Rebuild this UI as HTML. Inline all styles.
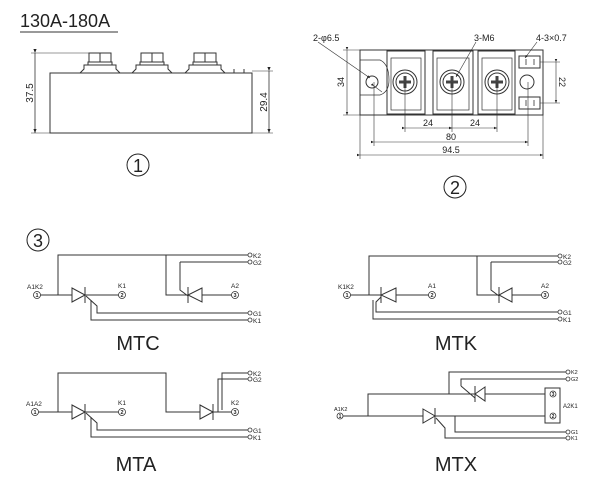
<!DOCTYPE html>
<html><head><meta charset="utf-8"><style>
html,body{margin:0;padding:0;background:#fff;}
svg{display:block;}
text{font-family:"Liberation Sans",sans-serif;fill:#222;}
</style></head><body>
<svg width="600" height="485" viewBox="0 0 600 485" xmlns="http://www.w3.org/2000/svg">
<defs>
<marker id="ar" markerWidth="6" markerHeight="6" refX="5" refY="3" orient="auto"><path d="M0,1 L5,3 L0,5z" fill="#222"/></marker>
</defs>
<text x="20" y="27" font-size="18" fill="#333">130A-180A</text>
<line x1="20" y1="32" x2="118" y2="32" stroke="#333" stroke-width="1"/>

<g stroke="#333" stroke-width="1" fill="none">
<rect x="50" y="73" width="202" height="60"/>
<g id="bolt">
<path d="M80,73 L84,69 L84,65 L116,65 L116,69 L120,73"/>
<rect x="88" y="62" width="24" height="3"/>
<rect x="89" y="53" width="22" height="9"/>
<line x1="100" y1="53" x2="100" y2="62"/>
</g>
<use href="#bolt" x="52"/>
<use href="#bolt" x="105"/>
<line x1="234" y1="69" x2="234" y2="73"/><line x1="244" y1="69" x2="244" y2="73"/>
<line x1="31" y1="53" x2="89" y2="53" stroke-width="0.6"/>
<line x1="31" y1="133" x2="50" y2="133" stroke-width="0.6"/>
<line x1="35" y1="53" x2="35" y2="133" stroke-width="0.8" marker-start="url(#ar)" marker-end="url(#ar)"/>
<line x1="252" y1="71" x2="273" y2="71" stroke-width="0.6"/>
<line x1="252" y1="133" x2="273" y2="133" stroke-width="0.6"/>
<line x1="269" y1="71" x2="269" y2="133" stroke-width="0.8" marker-start="url(#ar)" marker-end="url(#ar)"/>
</g>
<text transform="translate(33,93) rotate(-90)" font-size="10" text-anchor="middle">37.5</text>
<text transform="translate(267,102) rotate(-90)" font-size="10" text-anchor="middle">29.4</text>
<circle cx="138" cy="165" r="11" fill="none" stroke="#222" stroke-width="1"/>
<text x="138" y="172" font-size="18" text-anchor="middle">1</text>

<g stroke="#333" stroke-width="1" fill="none">
<rect x="360" y="50" width="183" height="65"/>
<path d="M360,60 L380,60 Q389,64 389,80 Q389,92 380,95 L360,95" stroke-width="0.7"/>
<rect x="387" y="51" width="38" height="63"/>
<rect x="391" y="58" width="30" height="52" stroke-width="0.7"/>
<rect x="433" y="51" width="40" height="63"/>
<rect x="437" y="58" width="32" height="52" stroke-width="0.7"/>
<rect x="478" y="51" width="37" height="63"/>
<rect x="482" y="58" width="30" height="52" stroke-width="0.7"/>
<circle cx="372" cy="82" r="6"/>
<circle cx="527" cy="82" r="7"/>
<rect x="519" y="56" width="21" height="12"/>
<rect x="519" y="97" width="21" height="12"/>
<path d="M526,59 v6 M534,59 v6 M526,100 v6 M534,100 v6" stroke-width="0.8"/>
<g id="scr"><circle cx="405" cy="82" r="12"/><circle cx="405" cy="82" r="9"/>
<path d="M403.5,76 h3 v4.5 h4.5 v3 h-4.5 v4.5 h-3 v-4.5 h-4.5 v-3 h4.5z" fill="#444" stroke="none"/></g>
<use href="#scr" x="47"/><use href="#scr" x="92"/>
<g stroke-width="0.6">
<line x1="343" y1="50" x2="360" y2="50"/><line x1="343" y1="115" x2="360" y2="115"/>
<line x1="347" y1="50" x2="347" y2="115" marker-start="url(#ar)" marker-end="url(#ar)"/>
<line x1="540" y1="62" x2="560" y2="62"/><line x1="540" y1="103" x2="560" y2="103"/>
<line x1="556" y1="62" x2="556" y2="103" marker-start="url(#ar)" marker-end="url(#ar)"/>
<line x1="405" y1="82" x2="405" y2="132"/><line x1="452" y1="82" x2="452" y2="132"/><line x1="497" y1="82" x2="497" y2="132"/>
<line x1="405" y1="128" x2="452" y2="128" marker-start="url(#ar)" marker-end="url(#ar)"/>
<line x1="452" y1="128" x2="497" y2="128" marker-start="url(#ar)" marker-end="url(#ar)"/>
<line x1="374" y1="82" x2="374" y2="146"/><line x1="528" y1="82" x2="528" y2="146"/>
<line x1="374" y1="142" x2="528" y2="142" marker-start="url(#ar)" marker-end="url(#ar)"/>
<line x1="360" y1="115" x2="360" y2="159"/><line x1="543" y1="115" x2="543" y2="159"/>
<line x1="360" y1="155" x2="543" y2="155" marker-start="url(#ar)" marker-end="url(#ar)"/>
<line x1="318" y1="42" x2="370" y2="78" marker-end="url(#ar)"/>
<line x1="374" y1="86" x2="382" y2="92" marker-start="url(#ar)"/>
<line x1="476" y1="42" x2="456" y2="77" marker-end="url(#ar)"/>
<line x1="537" y1="42" x2="525" y2="58" marker-end="url(#ar)"/>
</g>
</g>
<text x="313" y="41" font-size="9">2-φ6.5</text>
<text x="474" y="41" font-size="9">3-M6</text>
<text x="536" y="41" font-size="9">4-3×0.7</text>
<text transform="translate(344,82) rotate(-90)" font-size="9" text-anchor="middle">34</text>
<text transform="translate(559,82) rotate(90)" font-size="9" text-anchor="middle">22</text>
<text x="428" y="126" font-size="9" text-anchor="middle">24</text>
<text x="475" y="126" font-size="9" text-anchor="middle">24</text>
<text x="451" y="140" font-size="9" text-anchor="middle">80</text>
<text x="451" y="153" font-size="9" text-anchor="middle">94.5</text>
<circle cx="455" cy="187" r="11" fill="none" stroke="#222" stroke-width="1"/>
<text x="455" y="194" font-size="18" text-anchor="middle">2</text>

<circle cx="38" cy="240" r="11" fill="none" stroke="#222" stroke-width="1"/>
<text x="38" y="247" font-size="18" text-anchor="middle">3</text>

<g stroke="#333" stroke-width="1" fill="none">
<path d="M39,295 H72 M85,295 H119 M58,295 V255 H248 M166,255 V295 H188 M202,295 H232 M180,262 H248 M180,262 V290 L188,296"/>
<path d="M72,288 L85,295 L72,302z"/><line x1="85" y1="287" x2="85" y2="303"/>
<path d="M202,288 L188,295 L202,302z"/><line x1="188" y1="287" x2="188" y2="303"/>
<path d="M86,296 L97,306 V313 H248 M91,300 V320 H248"/>
<path d="M349,295 H381 M396,295 H429 M369,295 V256 H558 M477,256 V295 H499 M512,295 H542 M491,262 H558 M491,262 V290 L499,296"/>
<path d="M396,288 L381,295 L396,302z"/><line x1="381" y1="287" x2="381" y2="303"/>
<path d="M512,288 L499,295 L512,302z"/><line x1="499" y1="287" x2="499" y2="303"/>
<path d="M381,297 L376,302 V312 H558 M373,300 V319 H558"/>
<path d="M37,412 H72 M85,412 H119 M58,412 V373 H166 V412 H200 M213,412 H232 M222,410 V373 H248 M218,412 V379 H248"/>
<path d="M72,405 L85,412 L72,419z"/><line x1="85" y1="404" x2="85" y2="420"/>
<path d="M200,405 L213,412 L200,419z"/><line x1="213" y1="404" x2="213" y2="420"/>
<path d="M86,413 L97,423 V430 H248 M91,417 V437 H248"/>
<path d="M343,416 H423 M435,416 H545 M368,416 V394 H475 M485,394 H545 M449,394 V372 H566 M461,386 V379 H566 M461,386 L475,398"/>
<path d="M423,409 L435,416 L423,423z"/><line x1="435" y1="408" x2="435" y2="424"/>
<path d="M485,387 L475,394 L485,401z"/><line x1="475" y1="386" x2="475" y2="402"/>
<path d="M455,416 V432 H566 M436,418 L445,428 V438 H566"/>
<rect x="545" y="388" width="15" height="35"/>
</g>
<g fill="#fff" stroke="#333" stroke-width="0.8">
<circle cx="37" cy="295" r="3.5"/><circle cx="122" cy="295" r="3.5"/><circle cx="235" cy="295" r="3.5"/>
<circle cx="250" cy="255" r="2"/><circle cx="250" cy="262" r="2"/><circle cx="250" cy="313" r="2"/><circle cx="250" cy="320" r="2"/>
<circle cx="347" cy="295" r="3.5"/><circle cx="432" cy="295" r="3.5"/><circle cx="545" cy="295" r="3.5"/>
<circle cx="560" cy="256" r="2"/><circle cx="560" cy="262" r="2"/><circle cx="560" cy="312" r="2"/><circle cx="560" cy="319" r="2"/>
<circle cx="35" cy="412" r="3.5"/><circle cx="122" cy="412" r="3.5"/><circle cx="235" cy="412" r="3.5"/>
<circle cx="250" cy="373" r="2"/><circle cx="250" cy="379" r="2"/><circle cx="250" cy="430" r="2"/><circle cx="250" cy="437" r="2"/>
<circle cx="340" cy="416" r="3"/><circle cx="553" cy="394" r="3"/><circle cx="553" cy="416" r="3"/>
<circle cx="568" cy="372" r="2"/><circle cx="568" cy="379" r="2"/><circle cx="568" cy="432" r="2"/><circle cx="568" cy="438" r="2"/>
</g>
<g font-size="5.5" text-anchor="middle" font-weight="bold">
<text x="37" y="297">1</text><text x="122" y="297">2</text><text x="235" y="297">3</text>
<text x="347" y="297">1</text><text x="432" y="297">2</text><text x="545" y="297">3</text>
<text x="35" y="414">1</text><text x="122" y="414">2</text><text x="235" y="414">3</text>
<text x="340" y="418" font-size="5">1</text><text x="553" y="396" font-size="5">3</text><text x="553" y="418" font-size="5">2</text>
</g>
<g font-size="6.5">
<text x="27" y="289">A1K2</text><text x="118" y="288">K1</text><text x="231" y="288">A2</text>
<text x="253" y="258">K2</text><text x="253" y="265">G2</text><text x="253" y="316">G1</text><text x="253" y="323">K1</text>
<text x="338" y="289">K1K2</text><text x="428" y="288">A1</text><text x="541" y="288">A2</text>
<text x="563" y="259">K2</text><text x="563" y="265">G2</text><text x="563" y="315">G1</text><text x="563" y="322">K1</text>
<text x="26" y="406">A1A2</text><text x="118" y="405">K1</text><text x="231" y="405">K2</text>
<text x="253" y="376">K2</text><text x="253" y="382">G2</text><text x="253" y="433">G1</text><text x="253" y="440">K1</text>
<text x="334" y="411" font-size="5.5">A1K2</text><text x="563" y="408" font-size="6">A2K1</text>
<text x="571" y="374" font-size="5.5">K2</text><text x="571" y="381" font-size="5.5">G2</text><text x="571" y="434" font-size="5.5">G1</text><text x="571" y="440" font-size="5.5">K1</text>
</g>
<g font-size="20" fill="#333" text-anchor="middle">
<text x="138" y="350">MTC</text><text x="456" y="350">MTK</text>
<text x="136" y="471">MTA</text><text x="456" y="471">MTX</text>
</g>
</svg>
</body></html>
